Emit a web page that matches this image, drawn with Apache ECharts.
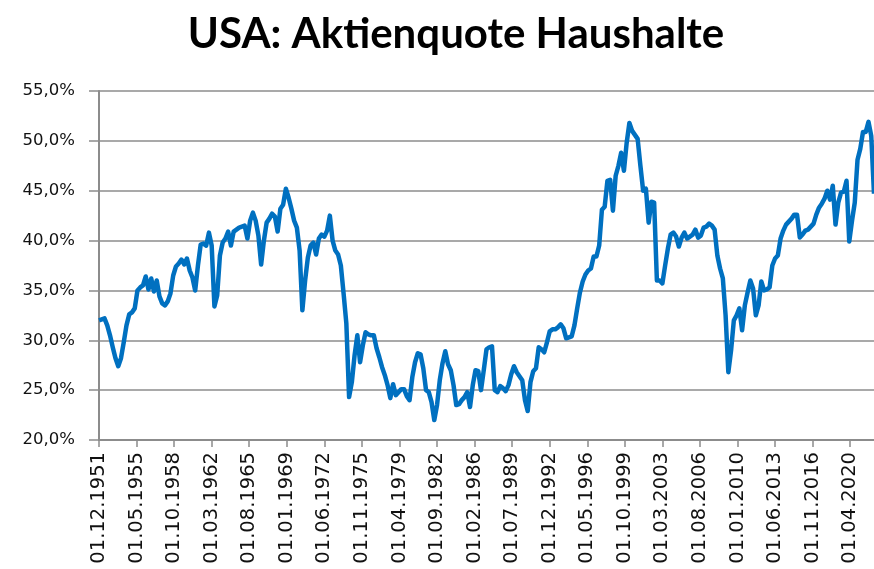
<!DOCTYPE html>
<html>
<head>
<meta charset="utf-8">
<script src="https://cdn.jsdelivr.net/npm/echarts@6/dist/echarts.min.js"></script>
<style>
  html, body { margin: 0; padding: 0; background: #fff; }
  #main { width: 874px; height: 569px; }
</style>
</head>
<body>
<div id="main"></div>
<script>
// Aktienquote der US-Haushalte in %, Quartalswerte ab 01.12.1951
var startYear = 1951, startMonth = 12;   // erster Datenpunkt
var stepMonths = 3;                      // quartalsweise
var labelStep = 41;                      // Abstand der Datumsbeschriftung (Monate)
var yTicks = [20, 25, 30, 35, 40, 45, 50, 55];

var share = [
	32.0, 32.1, 32.2, 31.5, 30.5, 29.3, 28.2, 27.4, 28.2, 29.8,
	31.5, 32.6, 32.8, 33.2, 35.0, 35.3, 35.5, 36.4, 35.1, 36.2,
	34.9, 36.0, 34.4, 33.7, 33.5, 33.9, 34.7, 36.5, 37.4, 37.7,
	38.1, 37.6, 38.2, 37.0, 36.3, 35.0, 37.5, 39.6, 39.7, 39.5,
	40.8, 39.5, 33.4, 34.5, 38.5, 39.8, 40.2, 40.9, 39.5, 40.9,
	41.1, 41.3, 41.4, 41.5, 40.2, 42.0, 42.8, 42.0, 40.5, 37.6,
	40.0, 41.8, 42.2, 42.7, 42.4, 40.9, 43.2, 43.6, 45.2, 44.3,
	43.2, 42.0, 41.3, 39.0, 33.0, 36.0, 38.3, 39.5, 39.8, 38.6,
	40.2, 40.6, 40.4, 41.0, 42.5, 40.0, 39.0, 38.6, 37.5, 34.7,
	31.7, 24.3, 25.8, 28.5, 30.5, 27.8, 29.5, 30.8, 30.6, 30.5,
	30.5, 29.2, 28.3, 27.3, 26.5, 25.5, 24.2, 25.6, 24.5, 24.8,
	25.1, 25.1, 24.4, 24.0, 26.3, 27.8, 28.7, 28.6, 27.2, 25.0,
	24.8, 23.8, 22.0, 23.5, 26.0, 27.7, 28.9, 27.6, 27.0, 25.5,
	23.5, 23.6, 24.0, 24.3, 24.8, 23.3, 25.5, 27.0, 26.9, 25.0,
	27.0, 29.1, 29.3, 29.4, 25.0, 24.8, 25.4, 25.2, 24.9, 25.5,
	26.6, 27.4, 26.8, 26.4, 26.0, 24.0, 22.9, 25.8, 26.9, 27.2,
	29.3, 29.1, 28.8, 29.8, 30.9, 31.1, 31.1, 31.3, 31.6, 31.2,
	30.2, 30.3, 30.4, 31.5, 33.2, 34.8, 35.9, 36.6, 37.0, 37.2,
	38.4, 38.4, 39.5, 43.1, 43.4, 46.0, 46.1, 43.0, 46.5, 47.5,
	48.8, 47.0, 49.8, 51.8, 51.0, 50.6, 50.2, 47.5, 45.0, 45.2,
	41.8, 43.9, 43.8, 36.0, 36.0, 35.7, 37.5, 39.2, 40.6, 40.8,
	40.4, 39.4, 40.3, 40.8, 40.2, 40.4, 40.6, 41.1, 40.3, 40.5,
	41.3, 41.4, 41.7, 41.5, 41.1, 38.5, 37.2, 36.2, 32.5, 26.8,
	29.0, 32.0, 32.5, 33.2, 31.0, 33.5, 34.8, 36.0, 35.2, 32.5,
	33.5, 35.9, 35.0, 35.1, 35.3, 37.5, 38.2, 38.5, 40.2, 41.0,
	41.6, 41.9, 42.2, 42.6, 42.6, 40.3, 40.6, 41.0, 41.1, 41.4,
	41.7, 42.6, 43.3, 43.7, 44.2, 45.0, 44.1, 45.5, 41.6, 43.8,
	44.8, 44.9, 46.0, 39.9, 42.0, 43.8, 48.1, 49.2, 50.9, 50.9,
	51.9, 50.5, 44.7
];

// Monate seit Start -> "01.MM.JJJJ"
function monthLabel(m) {
	var t = startYear * 12 + (startMonth - 1) + Math.round(m);
	var y = Math.floor(t / 12), mo = t % 12 + 1;
	return '01.' + (mo < 10 ? '0' + mo : mo) + '.' + y;
}

var points = [];
for (var i = 0; i < share.length; i++) {
	points.push([i * stepMonths, share[i]]);
}
var lastMonth = (share.length - 1) * stepMonths;

var chart = echarts.init(document.getElementById('main'));
var gray = '#8c8c8c';
var titleFont = 'Lato, "Open Sans", sans-serif';
var axisFont = '"DejaVu Sans", Verdana, sans-serif';

chart.setOption({
	animation: false,
	title: {
		text: 'USA: Aktienquote Haushalte',
		left: 451,
		textAlign: 'center',
		top: 8,
		textStyle: { fontFamily: titleFont, fontWeight: 'bold', fontSize: 42, color: '#000' }
	},
	grid: { left: 99, right: 0, top: 91, bottom: 129 },
	xAxis: {
		type: 'value',
		min: 0,
		max: lastMonth,
		interval: labelStep,
		splitLine: { show: false },
		axisLine: { lineStyle: { color: gray, width: 2 } },
		axisTick: { show: true, length: 7, lineStyle: { color: gray, width: 1.5 } },
		axisLabel: {
			rotate: 90,
			margin: 12,
			showMaxLabel: false,
			fontFamily: axisFont,
			fontSize: 19.5,
			color: '#111',
			formatter: monthLabel
		}
	},
	yAxis: {
		type: 'value',
		min: yTicks[0],
		max: yTicks[yTicks.length - 1],
		interval: yTicks[1] - yTicks[0],
		axisLine: { show: true, lineStyle: { color: gray, width: 2 } },
		axisTick: { show: true, length: 10, lineStyle: { color: gray, width: 1.5 } },
		splitLine: { lineStyle: { color: gray, width: 1.5 } },
		axisLabel: {
			margin: 24,
			fontFamily: axisFont,
			fontSize: 16.5,
			color: '#111',
			formatter: function (v) { return v.toFixed(1).replace('.', ',') + '%'; }
		}
	},
	series: [{
		type: 'line',
		data: points,
		showSymbol: false,
		clip: true,
		lineStyle: { color: '#0070C0', width: 4.5, join: 'round' }
	}]
});
</script>
</body>
</html>
